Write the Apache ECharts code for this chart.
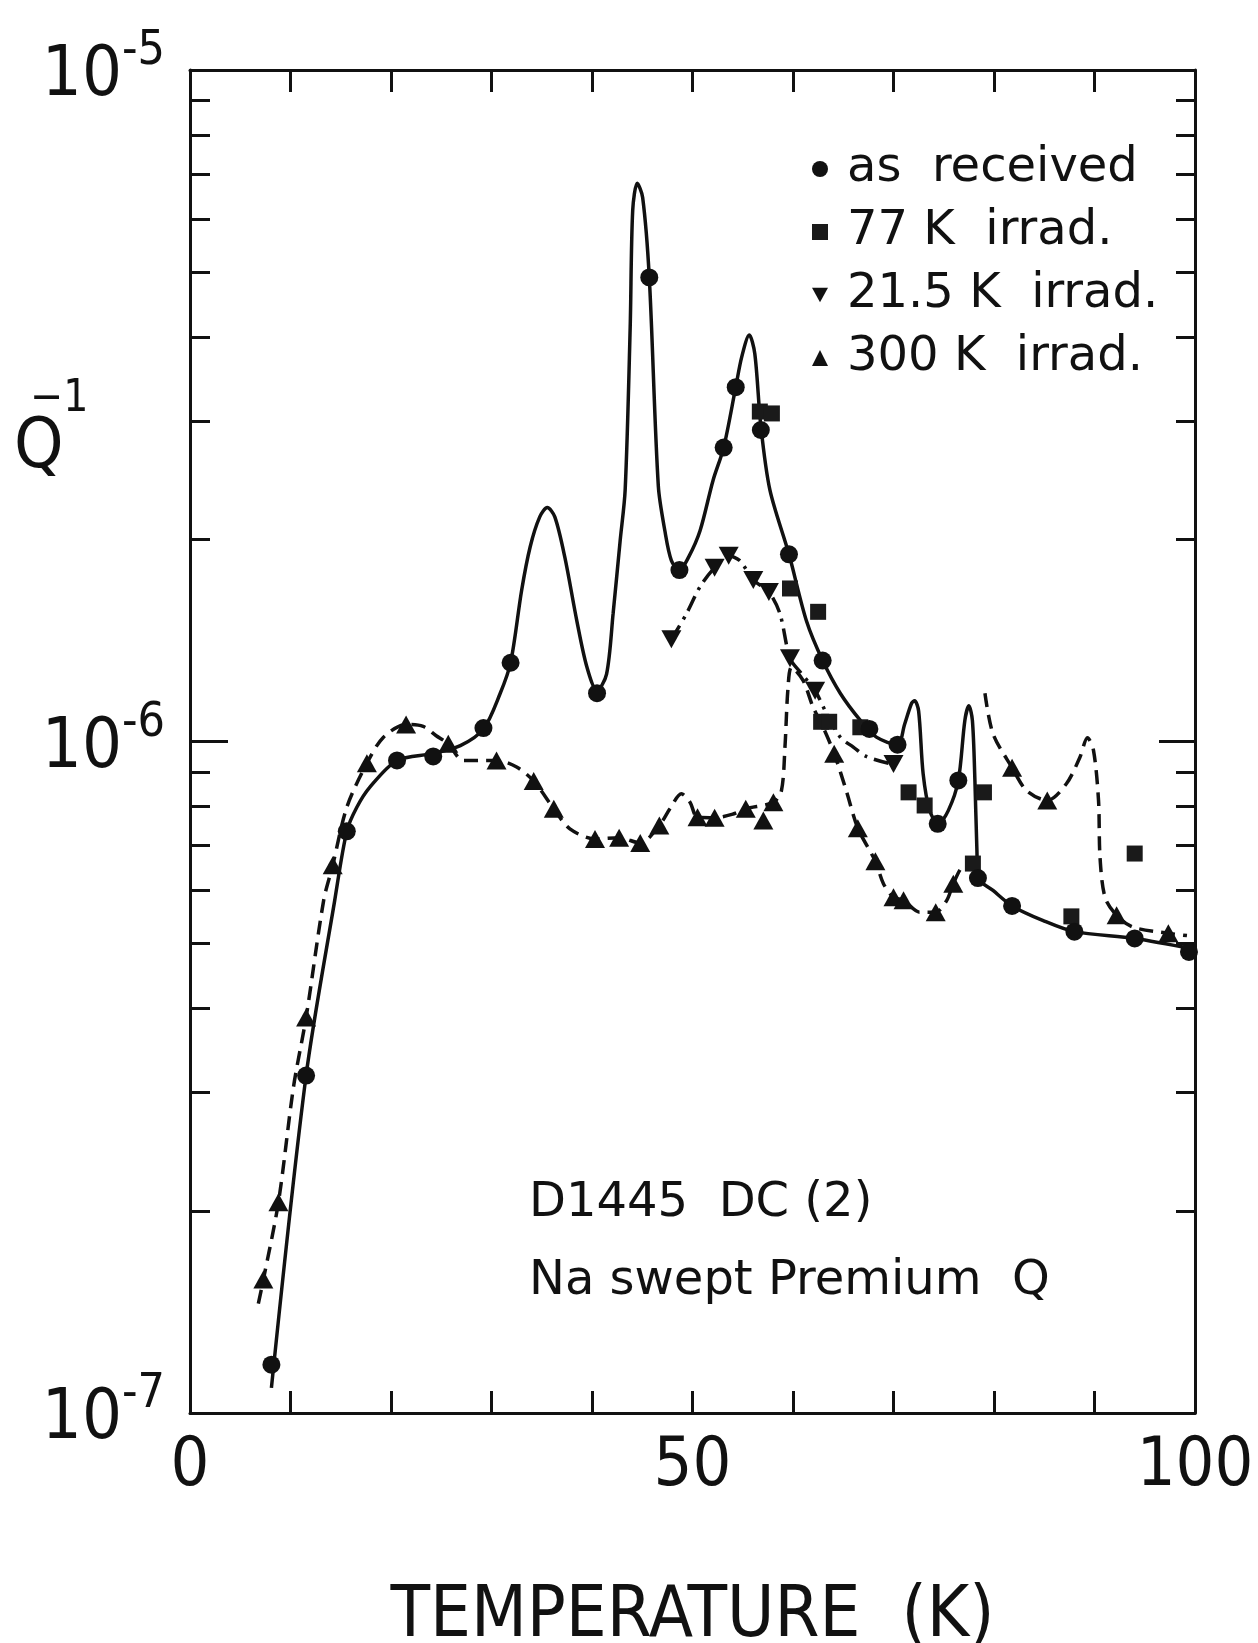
<!DOCTYPE html>
<html>
<head>
<meta charset="utf-8">
<script src="https://cdn.jsdelivr.net/npm/echarts@6/dist/echarts.min.js"></script>
<style>
  html, body { margin: 0; padding: 0; background: #fff; }
  #chart { width: 1258px; height: 1643px; }
</style>
</head>
<body>
<div id="chart"></div>
<script>
// Internal friction Q^-1 vs temperature, sample D1445 DC (2), Na swept Premium Q quartz

// --- measured points ---
const asReceivedT = [8.1, 11.55, 15.6, 20.6, 24.2, 29.2, 31.9, 40.5, 45.7, 48.7, 53.1, 54.3, 56.8, 59.6, 62.95, 67.6, 70.4, 74.4, 76.45, 78.4, 81.8, 88.0, 94.0, 99.4];
const asReceivedQ = [1.18e-7, 3.18e-7, 7.35e-7, 9.37e-7, 9.5e-7, 1.047e-6, 1.31e-6, 1.18e-6, 4.91e-6, 1.80e-6, 2.74e-6, 3.37e-6, 2.91e-6, 1.90e-6, 1.32e-6, 1.044e-6, 9.89e-7, 7.54e-7, 8.75e-7, 6.26e-7, 5.69e-7, 5.21e-7, 5.09e-7, 4.86e-7];

const irr77T = [56.7, 57.9, 59.7, 62.5, 62.8, 63.6, 66.7, 71.5, 73.1, 77.9, 79.0, 87.7, 94.0];
const irr77Q = [3.10e-6, 3.08e-6, 1.69e-6, 1.56e-6, 1.07e-6, 1.07e-6, 1.05e-6, 8.4e-7, 8.03e-7, 6.58e-7, 8.4e-7, 5.49e-7, 6.81e-7];

const irr215T = [47.9, 52.2, 53.6, 56.05, 57.6, 59.7, 62.2, 70.0];
const irr215Q = [1.42e-6, 1.815e-6, 1.89e-6, 1.74e-6, 1.67e-6, 1.33e-6, 1.19e-6, 9.26e-7];

const irr300T = [7.3, 8.8, 11.55, 14.2, 17.6, 21.5, 25.7, 30.5, 34.2, 36.2, 40.3, 42.7, 44.8, 46.7, 50.5, 52.2, 55.3, 57.05, 58.05, 64.1, 66.45, 68.2, 70.0, 71.0, 74.2, 75.95, 81.8, 85.3, 92.2, 97.35];
const irr300Q = [1.58e-7, 2.06e-7, 3.88e-7, 6.54e-7, 9.28e-7, 1.06e-6, 9.92e-7, 9.37e-7, 8.73e-7, 7.94e-7, 7.16e-7, 7.19e-7, 7.06e-7, 7.5e-7, 7.71e-7, 7.7e-7, 7.94e-7, 7.63e-7, 8.12e-7, 9.59e-7, 7.43e-7, 6.63e-7, 5.86e-7, 5.8e-7, 5.57e-7, 6.14e-7, 9.14e-7, 8.17e-7, 5.51e-7, 5.18e-7];

// --- hand-drawn guide curves, [T (K), Q^-1] nodes ---
const curveAsReceived = [
  [8.1, 1.09e-7], [11.55, 3.18e-7], [14.4, 5.8e-7], [15.6, 7.35e-7], [16.6, 7.98e-7], [17.9, 8.55e-7],
  [20.6, 9.37e-7], [24.2, 9.6e-7], [26.9, 9.86e-7], [29.2, 1.044e-6], [30.85, 1.178e-6], [31.9, 1.31e-6],
  [33.0, 1.68e-6], [33.85, 1.95e-6], [34.8, 2.16e-6], [35.55, 2.23e-6], [36.3, 2.16e-6], [37.3, 1.88e-6],
  [38.5, 1.51e-6], [39.5, 1.29e-6], [40.5, 1.19e-6], [41.45, 1.26e-6], [42.1, 1.55e-6], [42.8, 1.99e-6],
  [43.3, 2.37e-6], [43.8, 4.14e-6], [44.05, 6.18e-6], [44.5, 6.78e-6], [45.04, 6.46e-6], [45.7, 4.91e-6],
  [46.6, 2.4e-6], [47.25, 2.06e-6], [47.9, 1.86e-6], [48.7, 1.80e-6], [49.6, 1.88e-6], [50.75, 2.06e-6],
  [52.05, 2.45e-6], [53.1, 2.74e-6], [54.3, 3.37e-6], [54.9, 3.74e-6], [55.65, 4.03e-6], [56.2, 3.78e-6],
  [56.8, 2.95e-6], [57.7, 2.37e-6], [59.6, 1.90e-6], [61.35, 1.51e-6], [62.95, 1.32e-6], [64.7, 1.18e-6],
  [66.7, 1.075e-6], [68.3, 1.015e-6], [70.4, 9.89e-7], [71.1, 1.06e-6], [71.8, 1.14e-6], [72.1, 1.15e-6],
  [72.5, 1.11e-6], [72.95, 8.95e-7], [73.6, 7.89e-7], [74.45, 7.54e-7], [75.45, 7.89e-7], [76.45, 8.75e-7],
  [77.1, 1.075e-6], [77.5, 1.13e-6], [77.85, 1.075e-6], [78.1, 8.75e-7], [78.3, 6.88e-7], [78.45, 6.26e-7],
  [79.9, 6.0e-7], [81.8, 5.69e-7], [84.9, 5.41e-7], [88.0, 5.21e-7], [94.0, 5.09e-7], [99.8, 4.91e-7]
];
const curve215 = [
  [47.9, 1.42e-6], [49.4, 1.55e-6], [50.75, 1.70e-6], [52.2, 1.815e-6], [53.6, 1.89e-6], [54.7, 1.86e-6],
  [56.05, 1.74e-6], [57.6, 1.67e-6], [58.7, 1.55e-6], [59.7, 1.33e-6], [60.7, 1.27e-6], [62.2, 1.19e-6],
  [63.35, 1.10e-6], [64.7, 1.015e-6], [66.0, 9.81e-7], [67.3, 9.5e-7], [69.5, 9.28e-7]
];
const curve300Low = [
  [6.8, 1.455e-7], [7.3, 1.58e-7], [8.8, 2.06e-7], [10.3, 3.06e-7], [11.55, 3.88e-7], [13.3, 5.8e-7],
  [14.2, 6.54e-7], [15.6, 7.98e-7], [17.6, 9.28e-7], [19.25, 1.015e-6], [21.5, 1.06e-6], [23.2, 1.053e-6],
  [24.5, 1.02e-6], [25.7, 9.92e-7], [27.2, 9.37e-7], [30.5, 9.37e-7], [32.5, 9.16e-7], [34.2, 8.73e-7],
  [36.2, 7.94e-7], [37.8, 7.41e-7], [40.3, 7.16e-7], [42.7, 7.19e-7], [44.8, 7.06e-7], [46.7, 7.5e-7],
  [47.75, 7.94e-7], [48.9, 8.36e-7], [49.75, 8.12e-7], [50.5, 7.71e-7], [52.2, 7.7e-7], [54.05, 7.8e-7],
  [55.3, 7.94e-7], [58.05, 8.12e-7], [58.85, 8.45e-7], [59.2, 9.81e-7], [59.5, 1.2e-6], [59.85, 1.29e-6],
  [61.0, 1.233e-6], [62.0, 1.125e-6], [63.0, 1.05e-6], [64.1, 9.59e-7], [65.3, 8.45e-7], [66.45, 7.43e-7],
  [68.2, 6.63e-7], [69.0, 6.14e-7], [70.0, 5.86e-7], [71.0, 5.8e-7], [72.6, 5.57e-7], [74.2, 5.57e-7],
  [75.3, 5.8e-7], [75.95, 6.14e-7], [76.8, 6.5e-7], [77.6, 6.58e-7]
];
const curve300High = [
  [79.1, 1.18e-6], [79.9, 1.027e-6], [81.8, 9.14e-7], [83.25, 8.45e-7], [85.3, 8.17e-7], [87.2, 8.65e-7],
  [88.55, 9.475e-7], [89.3, 1.013e-6], [89.9, 9.7e-7], [90.4, 8.17e-7], [90.55, 6.72e-7], [91.05, 5.86e-7],
  [92.2, 5.51e-7], [93.85, 5.29e-7], [97.35, 5.18e-7], [99.2, 5.14e-7]
];

// --- axis ticks ---
const xLabelValues = [0, 50, 100];
const decadeTicks = [1e-7, 1e-6, 1e-5];
const minorTicks = [];
for (const e of [-7, -6]) {
  for (let m = 2; m <= 9; m++) minorTicks.push(Number((m * Math.pow(10, e)).toPrecision(3)));
}

const NUM_FONT = "'Liberation Sans Narrow', 'DejaVu Sans Condensed', 'Liberation Sans', sans-serif";
const TXT_FONT = "'DejaVu Sans', 'Liberation Sans', sans-serif";
const INK = '#111';

const zip = (t, q) => t.map((v, i) => [v, q[i]]);

const frame = { show: true, lineStyle: { color: INK, width: 3 } };
const noLabel = { show: false };
const noSplit = { show: false };

function logAxis(position, tickValues, tickLen, showLine, withLabels) {
  return {
    type: 'log', logBase: 10, min: 1e-7, max: 1e-5, position: position,
    axisLine: showLine ? frame : { show: false },
    axisTick: { show: true, inside: true, length: tickLen, customValues: tickValues,
                lineStyle: { color: INK, width: 3 } },
    axisLabel: withLabels ? {
      show: true, margin: 25, customValues: decadeTicks,
      formatter: v => '{b|10}{e|-' + Math.abs(Math.round(Math.log10(v))) + '}',
      rich: {
        b: { fontSize: 70, fontFamily: NUM_FONT, color: INK, verticalAlign: 'bottom' },
        e: { fontSize: 48, fontFamily: NUM_FONT, color: INK, verticalAlign: 'bottom', padding: [0, 0, 36, 0] }
      }
    } : noLabel,
    splitLine: noSplit, minorTick: { show: false }
  };
}

const chart = echarts.init(document.getElementById('chart'), null, { renderer: 'canvas' });

const markerStyle = { color: INK, opacity: 1 };

chart.setOption({
  backgroundColor: '#fff',
  animation: false,
  grid: { left: 190, top: 70, width: 1005, height: 1343, containLabel: false, outerBoundsMode: 'none' },
  xAxis: [
    {
      type: 'value', min: 0, max: 100, interval: 10, position: 'bottom',
      axisLine: frame,
      axisTick: { inside: true, length: 22, lineStyle: { color: INK, width: 3 } },
      axisLabel: {
        margin: 20, fontSize: 68, fontFamily: NUM_FONT, color: INK,
        formatter: v => (xLabelValues.indexOf(v) >= 0 ? String(v) : '')
      },
      splitLine: noSplit,
      name: 'TEMPERATURE  (K)', nameLocation: 'middle', nameGap: 168,
      nameTextStyle: { fontSize: 72, fontFamily: NUM_FONT, color: INK }
    },
    {
      type: 'value', min: 0, max: 100, interval: 10, position: 'top',
      axisLine: frame,
      axisTick: { inside: true, length: 22, lineStyle: { color: INK, width: 3 } },
      axisLabel: noLabel, splitLine: noSplit
    }
  ],
  yAxis: [
    logAxis('left', decadeTicks, 38, true, true),
    logAxis('left', minorTicks, 20, false, false),
    logAxis('right', decadeTicks, 36, true, false),
    logAxis('right', minorTicks, 19, false, false)
  ],
  legend: {
    orient: 'vertical', left: 807, top: 140,
    itemWidth: 16, itemHeight: 16, itemGap: 15,
    selectedMode: false,
    itemStyle: { opacity: 1 },
    textStyle: { fontSize: 48, fontFamily: TXT_FONT, color: INK, lineHeight: 48, padding: [0, 0, 0, 14] },
    data: [
      { name: 'as  received', icon: 'circle' },
      { name: '77 K  irrad.', icon: 'rect' },
      { name: '21.5 K  irrad.', icon: 'path://M0,0L10,0L5,9Z' },
      { name: '300 K  irrad.', icon: 'triangle' }
    ]
  },
  graphic: [
    { type: 'text', left: 14, top: 414, style: { text: 'Q', fontSize: 70, fontFamily: NUM_FONT, fill: INK } },
    { type: 'text', left: 30, top: 378, style: { text: '\u22121', fontSize: 44, fontFamily: NUM_FONT, fill: INK } },
    { type: 'text', left: 529, top: 1180, style: { text: 'D1445  DC (2)', fontSize: 48, fontFamily: TXT_FONT, fill: INK } },
    { type: 'text', left: 529, top: 1258, style: { text: 'Na swept Premium  Q', fontSize: 48, fontFamily: TXT_FONT, fill: INK } }
  ],
  series: [
    { type: 'line', data: curveAsReceived, smooth: 0.3, symbol: 'none', silent: true, z: 2,
      lineStyle: { color: INK, width: 3.5 } },
    { type: 'line', data: curve215, smooth: 0.3, symbol: 'none', silent: true, z: 2,
      lineStyle: { color: INK, width: 3.5, type: [16, 7, 3, 7] } },
    { type: 'line', data: curve300Low, smooth: 0.3, symbol: 'none', silent: true, z: 2,
      lineStyle: { color: INK, width: 3.5, type: [14, 8] } },
    { type: 'line', data: curve300High, smooth: 0.3, symbol: 'none', silent: true, z: 2,
      lineStyle: { color: INK, width: 3.5, type: [14, 8] } },
    { name: 'as  received', type: 'scatter', data: zip(asReceivedT, asReceivedQ),
      symbol: 'circle', symbolSize: 18, itemStyle: markerStyle, z: 5 },
    { name: '77 K  irrad.', type: 'scatter', data: zip(irr77T, irr77Q),
      symbol: 'rect', symbolSize: 16, itemStyle: { color: '#1a1a1a', opacity: 1 }, z: 4 },
    { name: '21.5 K  irrad.', type: 'scatter', data: zip(irr215T, irr215Q),
      symbol: 'triangle', symbolRotate: 180, symbolSize: [20, 18], itemStyle: markerStyle, z: 4 },
    { name: '300 K  irrad.', type: 'scatter', data: zip(irr300T, irr300Q),
      symbol: 'triangle', symbolSize: [20, 18], itemStyle: markerStyle, z: 4 }
  ]
});
</script>
</body>
</html>
